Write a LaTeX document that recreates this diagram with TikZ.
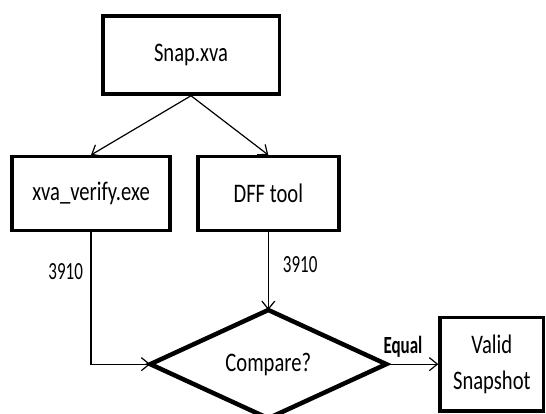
\documentclass[tikz,border=0pt]{standalone}
\usepackage{fontspec}
\setmainfont{Carlito}
\usepackage{graphicx}
\usetikzlibrary{arrows.meta, positioning, shapes.geometric}
\newcommand{\tall}[1]{\scalebox{1}[1.3]{#1}}
\newcommand{\taller}[1]{\scalebox{1}[1.45]{#1}}
\tikzset{
  fcarrow/.style={-{Straight Barb[length=8pt, width=13pt]}, line width=1.2pt},
  fcbox/.style={rectangle, draw, line width=3.5pt, inner sep=2pt, font=\fontsize{20.6}{28}\selectfont},
  fcdecision/.style={diamond, draw, line width=4.5pt, inner sep=0pt, outer sep=0pt, font=\fontsize{20.6}{28}\selectfont},
  fclabel/.style={inner sep=2pt, font=\fontsize{17}{20}\selectfont},
}

\begin{document}
\begin{tikzpicture}[x=1pt, y=1pt]
  \clip (0,0) rectangle (546,-414);
  % Snapshot and the two checkers.
  \node[fcbox, minimum width=176.5pt, minimum height=78pt] (snap) at (191,-55) {\tall{Snap.xva}};
  \node[fcbox, minimum width=157.8pt, minimum height=73.5pt] (verify) at (91,-193.5) {\tall{xva\_verify.exe}};
  \node[fcbox, minimum width=141pt, minimum height=73.5pt, right=24.4pt of verify] (dff) {\tall{DFF tool}};

  % Decision and result.
  \node[fcdecision, minimum width=236pt, minimum height=106pt, below=78pt of dff] (cmp) {\tall{Compare?}};
  \node[fcbox, minimum width=103.5pt, minimum height=93.5pt, right=52pt of cmp] (valid)
    {\tall{\begin{tabular}{@{}c@{}}Valid\\Snapshot\end{tabular}}};

  % Edges.
  \draw[fcarrow] (snap.south) -- (verify.north);
  \draw[fcarrow] (snap.south) -- (dff.north);
  \draw[fcarrow] (verify.south) |- node[fclabel, pos=0.15, left=5.5pt] {\taller{3910}} (cmp.west);
  \draw[fcarrow] (dff.south) -- node[fclabel, pos=0.42, right=12pt] {\taller{3910}} (cmp.north);
  \draw[fcarrow] (cmp.east) -- node[fclabel, pos=0.32, above=4pt] {\taller{\bfseries Equal}} (valid.west);
\end{tikzpicture}
\end{document}
